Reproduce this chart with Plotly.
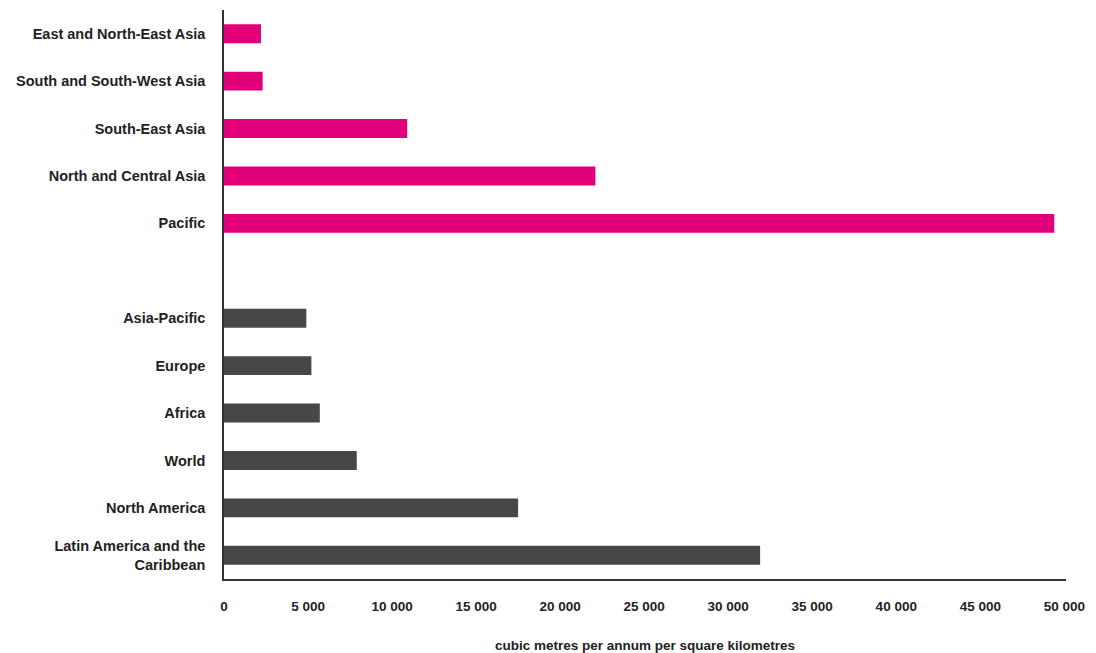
import plotly.graph_objects as go

asia_regions = ["East and North-East Asia", "South and South-West Asia", "South-East Asia",
                "North and Central Asia", "Pacific"]
asia_values = [2200, 2300, 10900, 22100, 49400]

world_regions = ["Asia-Pacific", "Europe", "Africa", "World", "North America",
                 "Latin America and the<br>Caribbean"]
world_values = [4900, 5200, 5700, 7900, 17500, 31900]

spacer = " "
category_order = list(reversed(asia_regions + [spacer] + world_regions))

x_ticks = [0, 5000, 10000, 15000, 20000, 25000, 30000, 35000, 40000, 45000, 50000]
x_ticktext = ["0", "5 000", "10 000", "15 000", "20 000", "25 000", "30 000",
              "35 000", "40 000", "45 000", "50 000"]

FONT = "Liberation Sans, Arial, sans-serif"

fig = go.Figure()
fig.add_trace(go.Bar(y=asia_regions, x=asia_values, orientation="h",
                     marker=dict(color="#E2007A", line=dict(width=0)), width=0.4))
fig.add_trace(go.Bar(y=world_regions, x=world_values, orientation="h",
                     marker=dict(color="#474747", line=dict(width=0)), width=0.4))

fig.update_layout(
    width=1088, height=645,
    margin=dict(l=216, r=30, t=2, b=74),
    plot_bgcolor="white", paper_bgcolor="white",
    showlegend=False,
    font=dict(family=FONT, size=14, color="#222222"),
    xaxis=dict(range=[0, 50100], tickvals=x_ticks, ticktext=x_ticktext, automargin=False,
               showgrid=False, zeroline=False, showline=True, linecolor="#333333", linewidth=1.5,
               ticks="", ticklabelstandoff=14,
               tickfont=dict(size=13.5, family=FONT, weight="bold"),
               title=dict(text="<b>cubic metres per annum per square kilometres</b>",
                          font=dict(size=13.5), standoff=28)),
    yaxis=dict(categoryorder="array", categoryarray=category_order, type="category",
               range=[-0.5, 11.5], automargin=False,
               showgrid=False, zeroline=False, showline=True, linecolor="#333333", linewidth=1.5,
               ticks="", ticklabelstandoff=14,
               tickfont=dict(size=14.5, family=FONT, weight="bold")),
)

fig.write_html("out.html")
